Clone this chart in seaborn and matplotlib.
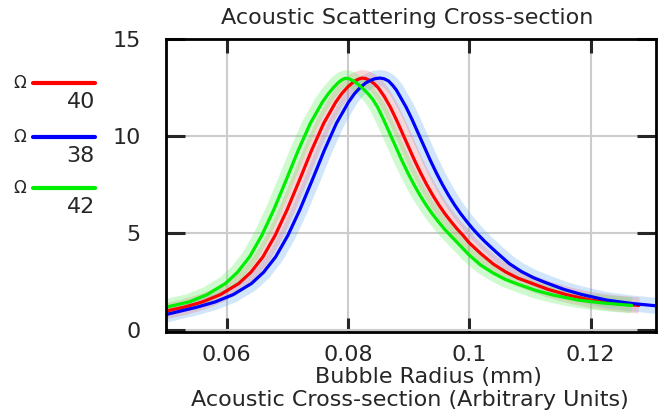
import seaborn as sns
import pandas as pd
import matplotlib.pyplot as plt
from matplotlib.lines import Line2D

# values
green_x = [0.0500, 0.0538, 0.0568, 0.0598, 0.0618, 0.0638, 0.0658, 0.0678, 0.0698, 0.0718, 0.0738, 0.0758,
           0.0768, 0.0776, 0.0784, 0.0790, 0.0796, 0.0802, 0.0810, 0.0818, 0.0826, 0.0834, 0.0841, 0.0849,
           0.0859, 0.0869, 0.0879, 0.0889, 0.0899, 0.0909, 0.0919, 0.0929, 0.0939, 0.0949, 0.0959, 0.0969,
           0.0979, 0.0999, 0.1019, 0.1039, 0.1059, 0.1079, 0.1109, 0.1139, 0.1179, 0.1219, 0.1268]
green_y = [1.18, 1.45, 1.83, 2.40, 2.98, 3.78, 4.88, 6.22, 7.72, 9.26, 10.66, 11.76,
           12.20, 12.50, 12.76, 12.91, 12.99, 12.96, 12.84, 12.65, 12.42, 12.17, 11.90, 11.50,
           10.85, 10.15, 9.45, 8.75, 8.10, 7.50, 6.95, 6.45, 6.00, 5.60, 5.22, 4.88,
           4.56, 3.90, 3.35, 2.95, 2.62, 2.38, 2.05, 1.80, 1.55, 1.40, 1.27]

red_x = [0.0500, 0.0530, 0.0560, 0.0590, 0.0620, 0.0640, 0.0660, 0.0680, 0.0700, 0.0720, 0.0740, 0.0760,
         0.0780, 0.0790, 0.0800, 0.0810, 0.0817, 0.0823, 0.0829, 0.0836, 0.0843, 0.0850, 0.0860, 0.0870,
         0.0880, 0.0890, 0.0900, 0.0910, 0.0920, 0.0930, 0.0940, 0.0950, 0.0960, 0.0970, 0.0980, 0.0990,
         0.1000, 0.1020, 0.1040, 0.1060, 0.1080, 0.1100, 0.1130, 0.1160, 0.1200, 0.1240, 0.1280]
red_y = [0.98, 1.18, 1.45, 1.83, 2.40, 2.98, 3.78, 4.88, 6.22, 7.72, 9.26, 10.66,
         11.76, 12.20, 12.55, 12.82, 12.94, 13.00, 12.98, 12.88, 12.72, 12.50, 12.05, 11.50,
         10.85, 10.15, 9.45, 8.75, 8.10, 7.50, 6.95, 6.45, 6.00, 5.60, 5.22, 4.88,
         4.50, 3.92, 3.40, 3.00, 2.68, 2.45, 2.10, 1.83, 1.55, 1.38, 1.27]

blue_x = [0.0500, 0.0551, 0.0581, 0.0611, 0.0641, 0.0661, 0.0681, 0.0701, 0.0721, 0.0741, 0.0761, 0.0781,
          0.0801, 0.0811, 0.0820, 0.0829, 0.0837, 0.0845, 0.0853, 0.0860, 0.0867, 0.0874, 0.0880, 0.0886,
          0.0896, 0.0906, 0.0916, 0.0926, 0.0936, 0.0946, 0.0956, 0.0966, 0.0976, 0.0986, 0.0996, 0.1006,
          0.1016, 0.1026, 0.1046, 0.1066, 0.1086, 0.1106, 0.1126, 0.1156, 0.1186, 0.1226, 0.1266, 0.1308]
blue_y = [0.80, 1.18, 1.45, 1.83, 2.40, 2.98, 3.78, 4.88, 6.22, 7.72, 9.26, 10.66,
          11.76, 12.20, 12.50, 12.74, 12.88, 12.97, 13.00, 12.96, 12.85, 12.62, 12.38, 12.05,
          11.50, 10.85, 10.15, 9.45, 8.75, 8.10, 7.50, 6.95, 6.45, 6.00, 5.60, 5.22,
          4.88, 4.56, 3.98, 3.43, 3.02, 2.70, 2.45, 2.10, 1.83, 1.55, 1.38, 1.25]

freq_labels = ['40', '38', '42']
line_colors = ['#ff0000', '#0000ff', '#00ee00']
band_colors = ['#e8707c', '#5aa8ee', '#55ee55']

x_ticks = [0.06, 0.08, 0.1, 0.12]
x_tick_labels = ['0.06', '0.08', '0.1', '0.12']
y_ticks = [0, 5, 10, 15]

df = pd.concat([
    pd.DataFrame({'r': red_x, 'sigma': red_y, 'f': '40'}),
    pd.DataFrame({'r': blue_x, 'sigma': blue_y, 'f': '38'}),
    pd.DataFrame({'r': green_x, 'sigma': green_y, 'f': '42'}),
])

sns.set_style('white')
plt.rcParams['font.family'] = ['DejaVu Sans']

fig = plt.figure(figsize=(6.69, 4.15), dpi=100)
ax = fig.add_axes([0.248, 0.2, 0.7326, 0.7053])

# soft wide bands behind the curves
for f, c in zip(['38', '40', '42'], [band_colors[1], band_colors[0], band_colors[2]]):
    sns.lineplot(data=df[df.f == f], x='r', y='sigma', color=c, linewidth=11.5, alpha=0.28,
                 sort=False, estimator=None, ax=ax, solid_capstyle='butt')
for f, c in zip(freq_labels, line_colors):
    sns.lineplot(data=df[df.f == f], x='r', y='sigma', color=c, linewidth=2.3,
                 sort=False, estimator=None, ax=ax)

ax.set_xlim(0.05, 0.1308)
ax.set_ylim(-0.1, 15)
ax.set_xticks(x_ticks)
ax.set_xticklabels(x_tick_labels)
ax.set_yticks(y_ticks)
ax.grid(True, color='#cccccc', linewidth=1.5)
ax.tick_params(axis='x', direction='in', length=10, width=2.2, labelsize=16, pad=9,
               top=True, bottom=True)
ax.tick_params(axis='y', direction='in', length=14, width=2.2, labelsize=16, pad=18,
               left=True, right=True)
for s in ax.spines.values():
    s.set_color('black')
    s.set_linewidth(2)
ax.set_xlabel('')
ax.set_ylabel('')

fig.text(0.608, 0.957, 'Acoustic Scattering Cross-section', ha='center', va='center', fontsize=16)
fig.text(0.641, 0.092, 'Bubble Radius (mm)', ha='center', va='center', fontsize=16)
fig.text(0.612, 0.036, 'Acoustic Cross-section (Arbitrary Units)', ha='center', va='center', fontsize=16)

# legend drawn at the left side
leg_y = [83, 137, 188]
for lab, c, py in zip(freq_labels, line_colors, leg_y):
    yf = 1 - py / 415
    fig.text(0.03, yf, 'Ω', ha='center', va='center', fontsize=12)
    fig.add_artist(Line2D([33 / 669, 95 / 669], [yf, yf], color=c, linewidth=3,
                          transform=fig.transFigure))
    fig.text(95 / 669, yf - 19 / 415, lab, ha='right', va='center', fontsize=16)

fig.savefig('out.png', dpi=100)
